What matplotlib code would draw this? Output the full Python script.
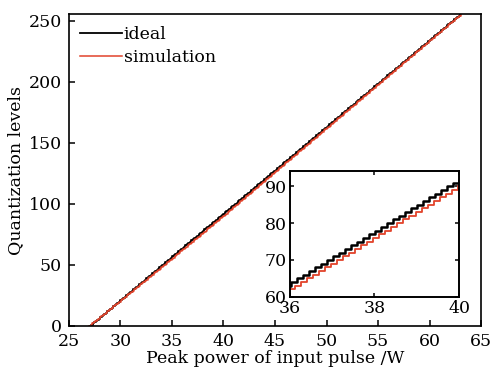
import numpy as np
import matplotlib.pyplot as plt

# quantization levels (8-bit) and anchor points
levels = np.arange(0, 256)
ideal_power = [27.05, 36.0, 40.0, 62.95]
ideal_level = [0, 63.8, 92.0, 255]
sim_power = [27.0, 36.0, 40.0, 63.0]
sim_level = [0, 62.2, 90.2, 255]

# power at which each level is reached
ideal_thr = np.interp(levels, ideal_level, ideal_power)
sim_thr = np.interp(levels, sim_level, sim_power)

plt.rcParams['font.family'] = ['DejaVu Serif']
plt.rcParams['font.size'] = 12.5
plt.rcParams['axes.linewidth'] = 1.2

red = '#e2432b'

fig = plt.figure(figsize=(4.92, 3.79), dpi=100)
ax = fig.add_axes([0.140, 0.140, 0.838, 0.822])
ax.step(ideal_thr, levels, where='post', color='black', lw=1.3, label='ideal')
ax.step(sim_thr, levels, where='post', color=red, lw=1.1, label='simulation')
ax.set_xlim(25, 65)
ax.set_ylim(0, 255)
ax.set_xticks(range(25, 66, 5))
ax.set_yticks(range(0, 251, 50))
ax.tick_params(direction='in', length=4, width=1.1, pad=5)
ax.set_xlabel('Peak power of input pulse /W', labelpad=0)
ax.set_ylabel('Quantization levels', labelpad=3)
leg = ax.legend(loc='upper left', frameon=False, handlelength=2.4, handletextpad=0.1,
                borderaxespad=0.25, labelspacing=0.35)

# inset
ins = fig.add_axes([0.589, 0.217, 0.344, 0.332])
ins.step(ideal_thr, levels, where='post', color='black', lw=1.8)
ins.step(sim_thr, levels, where='post', color=red, lw=1.3)
ins.set_xlim(36, 40)
ins.set_ylim(60, 94.2)
ins.set_xticks([36, 38, 40])
ins.set_yticks([60, 70, 80, 90])
ins.tick_params(direction='in', length=3, width=1.1, top=True, right=True, pad=2)
for s in ins.spines.values():
    s.set_linewidth(1.4)

fig.savefig('out.png', dpi=100)
